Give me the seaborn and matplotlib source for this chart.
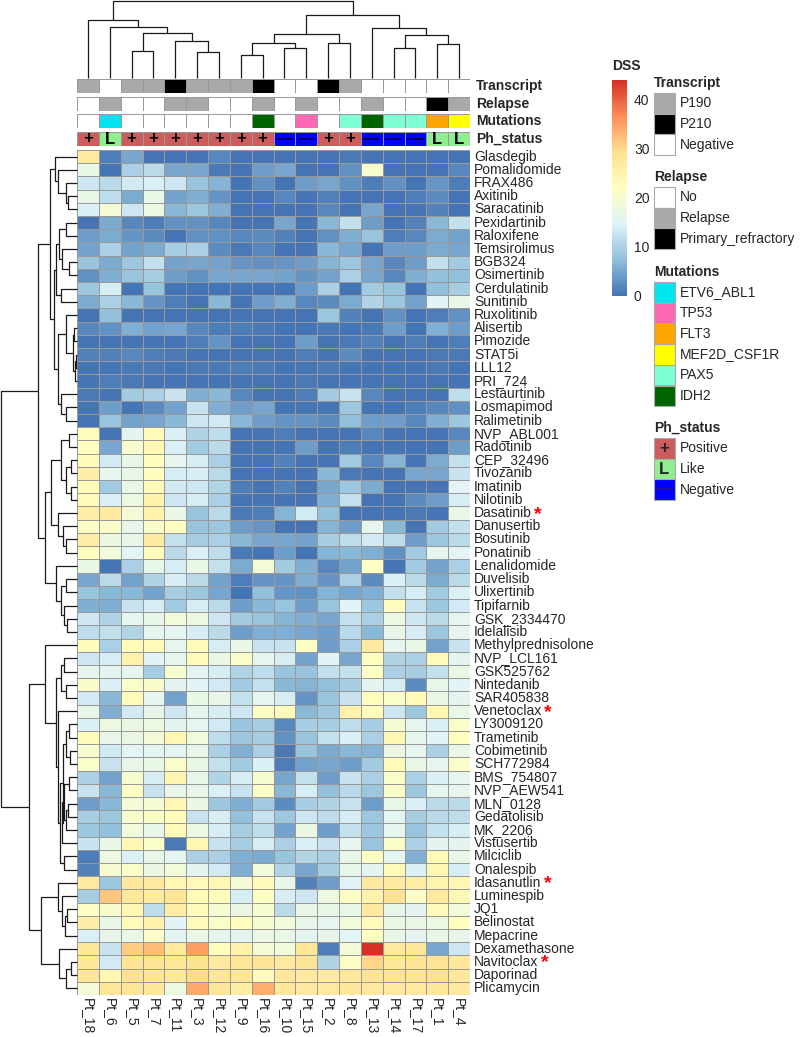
import numpy as np
import pandas as pd
import matplotlib
matplotlib.use("Agg")
import matplotlib.pyplot as plt
import seaborn as sns
from matplotlib.colors import LinearSegmentedColormap, ListedColormap
from matplotlib.patches import Rectangle

sns.set_style("white")
plt.rcParams["font.family"] = ["Liberation Sans", "DejaVu Sans"]

# ---------------- data ----------------
patients = ["Pt_18", "Pt_6", "Pt_5", "Pt_7", "Pt_11", "Pt_3", "Pt_12", "Pt_9", "Pt_16",
            "Pt_10", "Pt_15", "Pt_2", "Pt_8", "Pt_13", "Pt_14", "Pt_17", "Pt_1", "Pt_4"]

drugs = ["Glasdegib", "Pomalidomide", "FRAX486", "Axitinib", "Saracatinib", "Pexidartinib",
         "Raloxifene", "Temsirolimus", "BGB324", "Osimertinib", "Cerdulatinib", "Sunitinib",
         "Ruxolitinib", "Alisertib", "Pimozide", "STAT5i", "LLL12", "PRI_724", "Lestaurtinib",
         "Losmapimod", "Ralimetinib", "NVP_ABL001", "Radotinib", "CEP_32496", "Tivozanib",
         "Imatinib", "Nilotinib", "Dasatinib", "Danusertib", "Bosutinib", "Ponatinib",
         "Lenalidomide", "Duvelisib", "Ulixertinib", "Tipifarnib", "GSK_2334470", "Idelalisib",
         "Methylprednisolone", "NVP_LCL161", "GSK525762", "Nintedanib", "SAR405838",
         "Venetoclax", "LY3009120", "Trametinib", "Cobimetinib", "SCH772984", "BMS_754807",
         "NVP_AEW541", "MLN_0128", "Gedatolisib", "MK_2206", "Vistusertib", "Milciclib",
         "Onalespib", "Idasanutlin", "Luminespib", "JQ1", "Belinostat", "Mepacrine",
         "Dexamethasone", "Navitoclax", "Daporinad", "Plicamycin"]

starred = ["Dasatinib", "Venetoclax", "Idasanutlin", "Navitoclax"]

dss_values = [
    [27, 1, 5, 0, 0, 0, 2, 0, 0, 0, 0, 0, 0.5, 0, 0, 0, 0, 0],
    [17, 0, 10, 11, 5, 5, 0.5, 0, 4, 5, 0, 0, 3, 20, 0, 0, 0, 2],
    [13, 11, 13.5, 14.5, 13, 8, 6.5, 0, 3, 0, 4, 5, 3, 1, 3, 0, 3.5, 1],
    [17, 11.5, 5.5, 17, 4.5, 6, 3.5, 0, 0, 2, 0, 1.5, 0, 0, 0, 1, 2.5, 0],
    [14.5, 19, 13, 18, 7, 8.5, 6, 0, 0, 0, 0, 2, 0, 5, 0, 0, 1.5, 0],
    [0, 5.5, 2, 1, 3, 3, 2, 0, 0, 5, 0, 7, 12, 4, 0, 1.5, 7, 12],
    [4, 5.5, 3.5, 2.5, 0, 3, 3, 2, 2.5, 1.5, 0, 3, 6, 8, 1, 2, 5.5, 4.5],
    [4.5, 10, 4.5, 5.5, 9.5, 10, 2.5, 0.5, 2, 0, 0, 7, 5, 0, 4, 4, 5.5, 5],
    [8, 5.5, 8.5, 12, 4.5, 5, 4.5, 3.5, 3, 3.5, 4, 6.5, 8.5, 5, 2, 4, 12, 9],
    [3, 6, 8, 9.5, 4, 3, 5, 5, 5, 4.5, 3.5, 4.5, 10, 5, 2, 6, 7.5, 7.5],
    [8.5, 14, 0, 8, 0, 0, 0, 0, 0, 0, 4, 10, 0, 9, 8, 0, 7.5, 9.5],
    [5.5, 10, 7, 3.5, 1, 0, 7, 0, 4, 6, 2, 2.5, 5.5, 10.5, 8.5, 4.5, 15, 17],
    [0, 7.5, 0, 0, 0, 0, 0, 0, 0, 0, 0, 8.5, 1.5, 0, 3, 0, 1, 3],
    [2, 3, 6, 4.5, 5, 2, 1, 1, 0.5, 0, 0, 0.5, 0, 0.5, 4, 0, 6, 4],
    [0, 0, 0, 0, 0, 1, 3.5, 0, 0, 0, 4, 0, 0.5, 1.5, 0, 1, 0, 1],
    [1.5, 1.5, 2, 1, 0.5, 0, 0, 0, 0, 0, 1, 0, 2.5, 0, 0, 0, 0.5, 0.5],
    [0, 0, 0.5, 0.5, 0, 0.5, 0.5, 1, 0.5, 0, 0, 0.5, 0, 0, 0, 0, 0.5, 0],
    [0, 1, 0.5, 0, 0, 0, 0, 0, 0, 0, 0.5, 0, 0, 0, 0, 0, 0, 0],
    [0.5, 0, 9, 10, 12.5, 6, 7, 2, 0, 0, 1, 9, 12.5, 2, 0, 0, 0, 11.5],
    [0, 4, 0, 2.5, 4.5, 12.5, 6, 4, 5, 0, 0, 0, 8.5, 0, 0, 1, 2, 3],
    [0, 8, 4.5, 5, 7, 13, 13.5, 7, 4, 3.5, 3.5, 2.5, 7.5, 4, 4, 2, 6, 8.5],
    [22, 0, 15.5, 23, 14.5, 10.5, 11.5, 0, 0, 1, 0, 0, 0, 2, 0, 0, 0, 2],
    [22, 5, 20, 24, 14.5, 9, 11, 0, 0, 0, 4, 0, 1, 0, 0, 0, 0, 4],
    [22.5, 13.5, 17, 22, 16, 14, 10, 0, 0, 1.5, 0, 0, 9, 2, 6.5, 0, 5.5, 12],
    [26, 16, 17, 22, 14, 14, 11, 0, 0, 0, 0, 7, 0.5, 0, 0, 5, 5, 12.5],
    [23, 9, 17, 23, 13.5, 13, 10.5, 1, 0, 1.5, 0, 5, 8.5, 5.5, 0, 0, 0, 15],
    [23, 14.5, 18, 25, 13, 14, 10, 0, 0, 0, 0, 6, 12, 0, 0, 2.5, 4, 14],
    [26, 26.5, 19, 25, 17, 8, 11, 0.5, 1, 6.5, 13.5, 7.5, 0, 0, 0, 0.5, 0, 17],
    [21.5, 21, 16.5, 21, 22, 8, 8.5, 4, 3.5, 0, 0, 6.5, 4, 16, 7, 0, 9, 12],
    [26, 17.5, 16.5, 26.5, 12, 9.5, 10, 7, 5, 5, 4.5, 9.5, 11.5, 13.5, 11.5, 4, 8.5, 11],
    [22, 18.5, 15, 22.5, 11, 14.5, 11.5, 0.5, 0, 4, 0, 6.5, 7, 6, 3, 9, 16, 15],
    [17, 0, 10, 16.5, 14, 17, 12, 5.5, 19, 9, 6, 2, 4.5, 21.5, 0, 9, 4.5, 10],
    [5, 11, 4.5, 10.5, 14, 11, 4.5, 1, 3.5, 3.5, 6, 3.5, 10, 2.5, 14.5, 11, 5.5, 11],
    [8, 7, 7, 4.5, 9.5, 8.5, 5, 0, 7.5, 3.5, 3, 6.5, 5, 6, 12, 14, 9, 14.5],
    [6, 6, 12.5, 14, 9, 14, 11, 4, 7, 8, 4, 8, 15, 8.5, 22, 12.5, 8.5, 13.5],
    [13, 10.5, 16, 16.5, 18.5, 18, 13, 9, 8, 6.5, 6, 5, 12, 10, 18, 13, 11, 16],
    [11.5, 12, 10.5, 16, 15.5, 14, 11, 4, 6, 6, 5, 4, 11, 7, 16.5, 14, 8.5, 16],
    [22.5, 10, 22.5, 22.5, 16, 22.5, 14, 17, 12.5, 12.5, 21.5, 4, 10, 27, 16, 17, 4.5, 12.5],
    [13, 14, 25.5, 15, 16, 22.5, 17.5, 21, 16, 14, 4.5, 15, 5, 22, 10.5, 10, 23, 15.5],
    [16, 15.5, 16, 9.5, 20, 15.5, 14, 10.5, 11.5, 8, 8, 12, 12, 21.5, 10, 9.5, 12, 17.5],
    [20.5, 14.5, 21, 20.5, 15.5, 15, 13.5, 9, 12, 7, 6.5, 7.5, 9.5, 15.5, 14, 2.5, 16.5, 15],
    [13.5, 7, 22.5, 16, 4.5, 17, 16.5, 12, 16, 14, 3.5, 8, 12.5, 22, 21, 23, 17.5, 15.5],
    [16.5, 6, 13.5, 16.5, 13, 16, 14, 13, 21.5, 22.5, 7, 8.5, 25, 22.5, 13, 8.5, 24, 17],
    [14.5, 18, 17.5, 18, 15.5, 16, 13.5, 8, 9.5, 2, 9.5, 9.5, 11.5, 9.5, 19.5, 16, 14.5, 21],
    [22.5, 16.5, 17.5, 19, 24, 18.5, 11.5, 8.5, 9.5, 3, 8, 12, 14.5, 10, 23.5, 16, 15, 22],
    [20, 13.5, 15, 15.5, 15.5, 16.5, 10, 6, 10, 0.5, 8, 5.5, 7, 6.5, 17.5, 16, 10, 17],
    [21, 12.5, 16.5, 17, 21, 17, 12, 9, 14.5, 1, 4.5, 5, 4, 9, 23, 17, 16, 21],
    [10, 4.5, 20, 14, 24.5, 16.5, 10.5, 14, 20, 5, 12, 4, 12.5, 10, 21, 10, 14.5, 16],
    [12.5, 7, 21.5, 12.5, 16.5, 16.5, 14.5, 12.5, 21.5, 7, 14, 7.5, 11, 8.5, 21, 8.5, 16, 16],
    [4, 7, 19, 19.5, 23.5, 17.5, 8.5, 6, 9, 2.5, 9.5, 10.5, 12.5, 4, 16.5, 14.5, 11, 11],
    [9.5, 8.5, 20.5, 21, 22.5, 12.5, 14, 7.5, 12.5, 8.5, 13, 11.5, 14, 8.5, 15.5, 9.5, 11, 11.5],
    [8.5, 7.5, 18.5, 16.5, 23, 18, 14, 9.5, 11.5, 4.5, 17.5, 4, 12, 8.5, 16, 8, 12, 14],
    [12.5, 17, 24, 21, 0.5, 23.5, 12.5, 9.5, 14, 10, 14.5, 12.5, 16, 8, 21, 10, 15.5, 15.5],
    [1, 18, 14.5, 17, 15.5, 10, 10, 6, 5.5, 8, 10.5, 10, 17, 21.5, 15.5, 6, 23, 17],
    [1.5, 20, 21, 17.5, 18.5, 15.5, 13.5, 6, 18.5, 10.5, 5, 9.5, 16.5, 15.5, 23, 14.5, 23.5, 14],
    [26.5, 8.5, 27.5, 27, 24, 23, 23.5, 19, 22.5, 16.5, 1.5, 4, 15, 27, 26.5, 26, 24.5, 24],
    [9.5, 31.5, 27.5, 26.5, 28, 23, 22.5, 14, 21.5, 14, 13, 18, 21.5, 25, 29, 21, 27, 23.5],
    [21.5, 20.5, 24, 11.5, 26, 22.5, 19.5, 17.5, 20, 11, 17, 17, 17, 27, 16.5, 15.5, 22.5, 18.5],
    [26, 17, 23, 25, 15, 23, 21, 22, 20, 18.5, 16.5, 16, 18.5, 23, 17.5, 17, 18, 22],
    [14.5, 16.5, 17, 21, 15.5, 17, 16, 15.5, 17.5, 17, 15.5, 16.5, 15, 22, 17, 15.5, 17, 16.5],
    [27.5, 12.5, 31, 32.5, 27, 35, 22, 25, 19, 18.5, 28, 1, 19, 44, 27, 27.5, 5, 13],
    [27.5, 13.5, 28.5, 28.5, 27.5, 29, 27, 28, 28.5, 27, 28.5, 10.5, 21.5, 30, 27.5, 28.5, 28.5, 27.5],
    [28, 24, 29, 28, 27.5, 29.5, 28, 28, 22.5, 27.5, 27, 27, 27.5, 28.5, 28.5, 28.5, 29, 27.5],
    [19, 28, 28, 27.5, 18, 34, 28, 26, 33.5, 27.5, 27, 27, 27.5, 27, 27, 27, 27.5, 27],
]

transcript = ["P190", "Negative", "P190", "P190", "P210", "P190", "P190", "P190", "P210",
              "Negative", "Negative", "P210", "P190", "Negative", "Negative", "Negative",
              "Negative", "Negative"]
relapse = ["No", "Relapse", "No", "No", "Relapse", "Relapse", "No", "No", "Relapse", "No",
           "Relapse", "No", "No", "Relapse", "No", "No", "Primary_refractory", "Relapse"]
mutations = ["None", "ETV6_ABL1", "None", "None", "None", "None", "None", "None", "IDH2",
             "None", "TP53", "None", "PAX5", "IDH2", "PAX5", "PAX5", "FLT3", "MEF2D_CSF1R"]
ph_status = ["Positive", "Like", "Positive", "Positive", "Positive", "Positive", "Positive",
             "Positive", "Positive", "Negative", "Negative", "Positive", "Positive",
             "Negative", "Negative", "Negative", "Like", "Like"]

transcript_levels = ["P190", "P210", "Negative"]
transcript_colors = ["#a9a9a9", "#000000", "#ffffff"]
relapse_levels = ["No", "Relapse", "Primary_refractory"]
relapse_colors = ["#ffffff", "#a9a9a9", "#000000"]
mutation_levels = ["ETV6_ABL1", "TP53", "FLT3", "MEF2D_CSF1R", "PAX5", "IDH2", "None"]
mutation_colors = ["#00e5ee", "#ff69b4", "#ffa500", "#ffff00", "#7fffd4", "#006400", "#ffffff"]
ph_levels = ["Positive", "Like", "Negative"]
ph_colors = ["#cd5c5c", "#90ee90", "#0000ff"]
ph_symbols = {"Positive": "+", "Like": "L", "Negative": "\u2014"}

dss_ticks = [0, 10, 20, 30, 40]
dss_max = 44

# dendrogram merges: [left, right, height]; leaves are display positions
col_tree = [[0, [1, [[2, 3, 80], [4, [5, 6, 77], 110], 133], 150], 172],
            [[[[7, 8, 67], [9, 10, 90], 103], [11, 12, 105], 129],
             [13, [[14, 15, 90], [16, 17, 100], 127], 148], 186], 228]

r_c1 = [0, [1, [2, [3, 4, 28], 35], 60], 68]
r_c2 = [[[5, 6, 35], [7, [8, 9, 25], 47], 55], [10, 11, 50], 64]
r_c3 = [[12, [[13, 14, 8], [[15, 16, 3], 17, 6], 12], 35], [18, [19, 20, 35], 50], 60]
r_top1 = [r_c1, [r_c2, r_c3, 72], 85]
r_y = [[[21, 22, 25], [[23, 24, 20], [25, 26, 20], 35], 50],
       [27, [28, [29, 30, 35], 43], 60], 80]
r_b = [31, [[32, 33, 35], [34, [35, 36, 30], 42], 50], 65]
r_top = [r_top1, [r_y, r_b, 100], 122]
r_c1b = [[38, 39, 40], [40, 41, 35], 50]
r_44_53 = [[[43, 44, 25], [45, 46, 22], 33],
           [[[47, 48, 25], [[49, 50, 28], 51, 35], 40], 52, 48], 45]
r_c2b = [42, [r_44_53, [53, 54, 40], 52], 58]
r_c = [37, [r_c1b, r_c2b, 65], 99]
r_d = [[55, [56, [[57, 58, 30], 59, 38], 48], 60], [60, [[61, 62, 20], 63, 35], 55], 111]
row_tree = [r_top, [r_c, r_d, 150], 237]

# ---------------- figure ----------------
W, H = 800, 1037
fig = plt.figure(figsize=(W / 100, H / 100), dpi=100)


def add_ax(x0, y0, x1, y1):
    return fig.add_axes([x0 / W, 1 - y1 / H, (x1 - x0) / W, (y1 - y0) / H])


cmap = LinearSegmentedColormap.from_list(
    "dss", ["#4575B4", "#91BFDB", "#E0F3F8", "#FFFFBF", "#FEE090", "#FC8D59", "#D73027"], N=100)

HX0, HX1, HY0, HY1 = 77, 470, 150, 995
GRID = "#999999"

ax = add_ax(HX0, HY0, HX1, HY1)
df = pd.DataFrame(dss_values, index=drugs, columns=patients)
sns.heatmap(df, ax=ax, cmap=cmap, vmin=0, vmax=dss_max, cbar=False, linewidths=0.7,
            linecolor=GRID, xticklabels=True, yticklabels=True)
ax.yaxis.tick_right()
ax.tick_params(axis="y", length=0, pad=3, labelsize=10, labelrotation=0)
ax.tick_params(axis="x", length=0, pad=2, labelsize=10, labelrotation=270)
for t in ax.get_xticklabels():
    t.set_ha("center")
    t.set_va("top")
for t in ax.get_yticklabels():
    t.set_va("center")
ax.set_xlabel("")
ax.set_ylabel("")

# annotation rows
ann_specs = [
    ("Transcript", transcript, transcript_levels, transcript_colors, (79, 93)),
    ("Relapse", relapse, relapse_levels, relapse_colors, (97, 111)),
    ("Mutations", mutations, mutation_levels, mutation_colors, (114, 128)),
    ("Ph_status", ph_status, ph_levels, ph_colors, (132, 146)),
]
for name, vals, levels, colors, (y0, y1) in ann_specs:
    a = add_ax(HX0, y0, HX1, y1)
    codes = pd.DataFrame([[levels.index(v) for v in vals]], columns=patients)
    kw = {}
    if name == "Ph_status":
        kw = dict(annot=np.array([[ph_symbols[v] for v in vals]]), fmt="",
                  annot_kws={"fontsize": 12, "fontweight": "bold", "color": "black"})
    sns.heatmap(codes, ax=a, cmap=ListedColormap(colors), vmin=-0.5,
                vmax=len(levels) - 0.5, cbar=False, linewidths=0.7, linecolor=GRID,
                xticklabels=False, yticklabels=False, **kw)
    fig.text(476 / W, 1 - ((y0 + y1) / 2) / H, name, fontsize=10, fontweight="bold",
             va="center", ha="left")


# dendrograms
def draw_tree(axd, node, orient):
    if isinstance(node, int):
        return node + 0.5, 0
    left, right, h = node
    xl, hl = draw_tree(axd, left, orient)
    xr, hr = draw_tree(axd, right, orient)
    if orient == "top":
        axd.plot([xl, xl, xr, xr], [hl, h, h, hr], color="#1a1a1a", lw=0.9,
                 solid_capstyle="butt", clip_on=False)
    else:
        axd.plot([hl, h, h, hr], [xl, xl, xr, xr], color="#1a1a1a", lw=0.9,
                 solid_capstyle="butt", clip_on=False)
    return (xl + xr) / 2, h


cd = add_ax(HX0, 1, HX1, 78)
draw_tree(cd, col_tree, "top")
cd.set_xlim(0, len(patients))
cd.set_ylim(0, col_tree[2])
cd.axis("off")

rd = add_ax(1, HY0, HX0, HY1)
draw_tree(rd, row_tree, "left")
rd.set_xlim(row_tree[2], 0)
rd.set_ylim(len(drugs), 0)
rd.axis("off")

# colorbar
cax = add_ax(612, 296 - dss_max * 4.92, 627, 296)
cb = fig.colorbar(ax.collections[0], cax=cax, ticks=dss_ticks)
cb.outline.set_visible(False)
cax.tick_params(length=0, pad=5, labelsize=10)
fig.text(612 / W, 1 - 66 / H, "DSS", fontsize=10, fontweight="bold", va="center", ha="left")

# legends
lg = fig.add_axes([0, 0, 1, 1], zorder=5)
lg.set_xlim(0, W)
lg.set_ylim(H, 0)
lg.axis("off")
lg.patch.set_alpha(0)

LX, SQ = 654, 20.7
legend_blocks = [
    ("Transcript", transcript_levels, transcript_colors, 83, None),
    ("Relapse", relapse_levels, relapse_colors, 177, None),
    ("Mutations", mutation_levels[:-1], mutation_colors[:-1], 272, None),
    ("Ph_status", ph_levels, ph_colors, 428, ph_symbols),
]
for title, levels, colors, ty, symbols in legend_blocks:
    lg.text(LX, ty, title, fontsize=10, fontweight="bold", va="center", ha="left")
    top = ty + 10
    for i, (lev, col) in enumerate(zip(levels, colors)):
        yy = top + i * SQ
        lg.add_patch(Rectangle((LX, yy), SQ, SQ, facecolor=col, edgecolor="#aaaaaa", lw=0.8))
        lg.text(LX + SQ + 5, yy + SQ / 2, lev, fontsize=10, va="center", ha="left")
        if symbols is not None:
            lg.text(LX + SQ / 2, yy + SQ / 2, symbols[lev], fontsize=12, fontweight="bold",
                    va="center", ha="center")

# red asterisks after selected drugs
fig.canvas.draw()
renderer = fig.canvas.get_renderer()
for lab in ax.get_yticklabels():
    if lab.get_text() in starred:
        bb = lab.get_window_extent(renderer)
        fig.text((bb.x1 + 2) / W, (bb.y0 + bb.y1) / 2 / H - 1 / H, "*", color="red",
                 fontsize=14, fontweight="bold", va="center", ha="left")

fig.savefig("out.png", dpi=100)
